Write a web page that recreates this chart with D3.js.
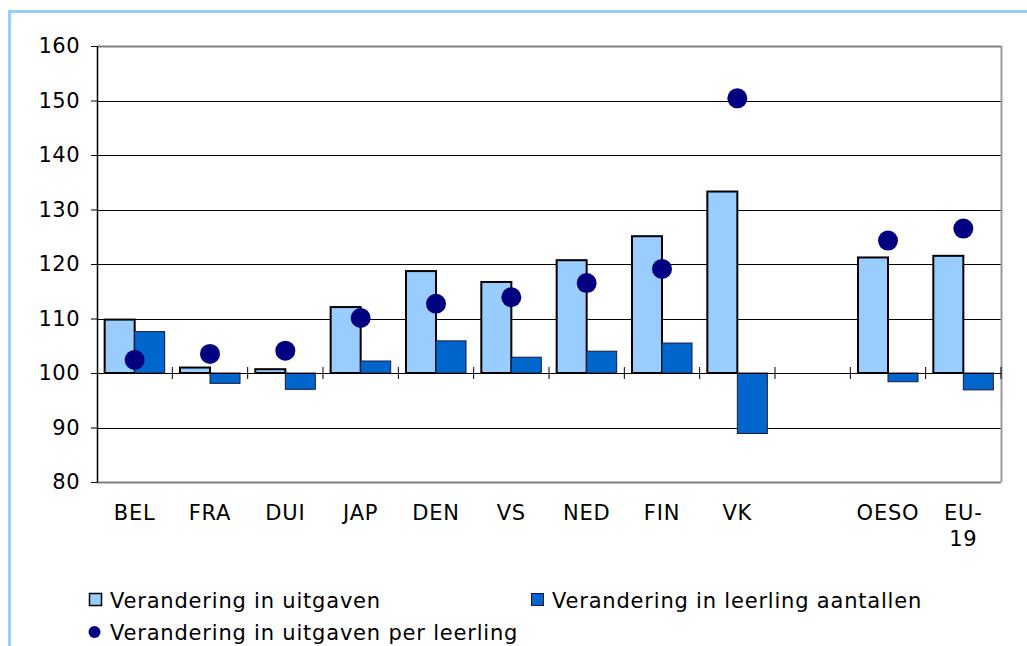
<!DOCTYPE html>
<html>
<head>
<meta charset="utf-8">
<script src="https://cdn.jsdelivr.net/npm/d3@7"></script>
<style>
  body { margin: 0; background: #fff; }
  text { font-family: "DejaVu Sans", Verdana, sans-serif; }
</style>
</head>
<body>
<div id="chart"></div>
<script>
const categories = ["BEL", "FRA", "DUI", "JAP", "DEN", "VS", "NED", "FIN", "VK", "", "OESO", "EU-19"];
const uitgaven = [109.8, 101.0, 100.7, 112.1, 118.7, 116.7, 120.7, 125.1, 133.3, null, 121.2, 121.5];
const leerlingen = [107.6, 98.1, 97.0, 102.2, 105.9, 102.9, 104.0, 105.5, 88.9, null, 98.4, 96.9];
const perLeerling = [102.4, 103.5, 104.1, 110.1, 112.7, 113.9, 116.5, 119.1, 150.4, null, 124.3, 126.5];
const yTicks = [80, 90, 100, 110, 120, 130, 140, 150, 160];
const legendLabels = ["Verandering in uitgaven", "Verandering in leerling aantallen", "Verandering in uitgaven per leerling"];

const W = 1027, H = 646;
const plot = { left: 97, right: 1001, top: 46, bottom: 482 };

const svg = d3.select("#chart").append("svg")
  .attr("width", W)
  .attr("height", H);

// outer light blue frame
svg.append("path")
  .attr("d", `M9.5,${H} V11.5 H${W}`)
  .attr("fill", "none")
  .attr("stroke", "#99ccff")
  .attr("stroke-width", 3);

const x = d3.scaleBand()
  .domain(categories)
  .range([plot.left, plot.right]);

const xInner = d3.scaleBand()
  .domain([0, 1])
  .range([0, x.bandwidth()])
  .paddingOuter(0.255);

const y = d3.scaleLinear()
  .domain([80, 160])
  .range([plot.bottom, plot.top]);

// grid lines
svg.append("g")
  .selectAll("line")
  .data(yTicks.filter(d => d !== 100))
  .join("line")
  .attr("x1", plot.left)
  .attr("x2", plot.right)
  .attr("y1", d => Math.round(y(d)) + 0.5)
  .attr("y2", d => Math.round(y(d)) + 0.5)
  .attr("stroke", d => (d === 160 || d === 80) ? "#808080" : "#000")
  .attr("stroke-width", d => (d === 160 || d === 80) ? 2 : 1);

// right border of plot area
svg.append("line")
  .attr("x1", plot.right + 0.5).attr("x2", plot.right + 0.5)
  .attr("y1", plot.top).attr("y2", plot.bottom)
  .attr("stroke", "#999")
  .attr("stroke-width", 2);

// y axis
const yAxis = svg.append("g")
  .attr("transform", `translate(${plot.left},0)`)
  .call(d3.axisLeft(y).tickValues(yTicks).tickSize(6).tickPadding(11).tickSizeOuter(0));
yAxis.select(".domain").attr("stroke", "#000").attr("stroke-width", 1.5);
yAxis.selectAll(".tick line").attr("stroke", "#000");
yAxis.selectAll("text")
  .attr("font-size", 21)
  .attr("letter-spacing", "0.5px")
  .attr("fill", "#000")
  .attr("font-family", "DejaVu Sans, Verdana, sans-serif");

const y0 = y(100);

// light bars
svg.append("g")
  .selectAll("rect")
  .data(categories.map((c, i) => ({ c, v: uitgaven[i] })).filter(d => d.v !== null))
  .join("rect")
  .attr("x", d => x(d.c) + xInner(0))
  .attr("width", xInner.bandwidth())
  .attr("y", d => Math.min(y(d.v), y0))
  .attr("height", d => Math.abs(y(d.v) - y0))
  .attr("fill", "#99ccff")
  .attr("stroke", "#000")
  .attr("stroke-width", 2);

// dark bars
svg.append("g")
  .selectAll("rect")
  .data(categories.map((c, i) => ({ c, v: leerlingen[i] })).filter(d => d.v !== null))
  .join("rect")
  .attr("x", d => x(d.c) + xInner(1))
  .attr("width", xInner.bandwidth())
  .attr("y", d => Math.min(y(d.v), y0))
  .attr("height", d => Math.abs(y(d.v) - y0))
  .attr("fill", "#0066cc")
  .attr("stroke", "#1a1a40")
  .attr("stroke-width", 1);

// baseline at 100 with category ticks
svg.append("line")
  .attr("x1", plot.left).attr("x2", plot.right)
  .attr("y1", Math.round(y0) + 0.5).attr("y2", Math.round(y0) + 0.5)
  .attr("stroke", "#000")
  .attr("stroke-width", 1);

svg.append("g")
  .selectAll("line")
  .data(categories.slice(1).concat(["end"]))
  .join("line")
  .attr("x1", (d, i) => x(categories[i]) + x.bandwidth())
  .attr("x2", (d, i) => x(categories[i]) + x.bandwidth())
  .attr("y1", y0 - 6)
  .attr("y2", y0 + 6)
  .attr("stroke", "#000")
  .attr("stroke-width", 1);

// dots
svg.append("g")
  .selectAll("circle")
  .data(categories.map((c, i) => ({ c, v: perLeerling[i] })).filter(d => d.v !== null))
  .join("circle")
  .attr("cx", d => x(d.c) + x.bandwidth() / 2)
  .attr("cy", d => y(d.v))
  .attr("r", 10)
  .attr("fill", "#000080");

// category labels
const labels = svg.append("g")
  .selectAll("text")
  .data(categories)
  .join("text")
  .attr("x", d => x(d) + x.bandwidth() / 2)
  .attr("y", 520)
  .attr("text-anchor", "middle")
  .attr("font-size", 21)
  .attr("letter-spacing", "0.8px")
  .attr("fill", "#000");

labels.each(function (d) {
  const parts = d.includes("-") ? [d.slice(0, d.indexOf("-") + 1), d.slice(d.indexOf("-") + 1)] : [d];
  d3.select(this).selectAll("tspan")
    .data(parts)
    .join("tspan")
    .attr("x", x(d) + x.bandwidth() / 2)
    .attr("dy", (p, i) => i === 0 ? 0 : 26)
    .text(p => p);
});

// legend
const legend = svg.append("g");
legend.append("rect")
  .attr("x", 89.5).attr("y", 593.5).attr("width", 12).attr("height", 12)
  .attr("fill", "#99ccff").attr("stroke", "#000").attr("stroke-width", 1.5);
legend.append("text")
  .attr("x", 110).attr("y", 608)
  .attr("font-size", 21).attr("letter-spacing", "0.8px")
  .text(legendLabels[0]);

legend.append("rect")
  .attr("x", 531.5).attr("y", 593.5).attr("width", 12).attr("height", 12)
  .attr("fill", "#0066cc").attr("stroke", "#1a1a40").attr("stroke-width", 1);
legend.append("text")
  .attr("x", 552).attr("y", 608)
  .attr("font-size", 21).attr("letter-spacing", "0.8px")
  .text(legendLabels[1]);

legend.append("circle")
  .attr("cx", 94.5).attr("cy", 632).attr("r", 6)
  .attr("fill", "#000080");
legend.append("text")
  .attr("x", 110).attr("y", 640)
  .attr("font-size", 21).attr("letter-spacing", "0.8px")
  .text(legendLabels[2]);
</script>
</body>
</html>
